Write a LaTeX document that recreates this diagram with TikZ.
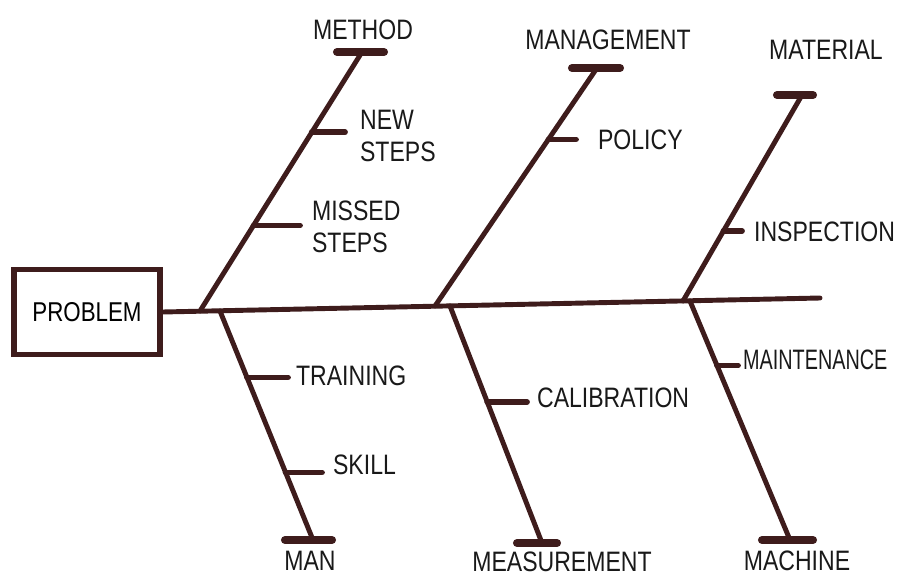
\documentclass[tikz,border=0pt]{standalone}
\usepackage{fontspec}
\setmainfont{Liberation Sans}
\newfontfamily\handfont[FakeStretch=0.82]{Liberation Sans}
\definecolor{ink}{RGB}{62,28,28}
\begin{document}
\begin{tikzpicture}[x=0.02cm, y=-0.02cm,
    bone/.style={draw=ink, line width=2.8pt, line cap=round},
    twig/.style={draw=ink, line width=3.3pt, line cap=round},
    capline/.style={draw=ink, line width=4.6pt, line cap=round},
    lbl/.style={text=black!90, inner sep=1pt, font=\handfont\fontsize{16}{18}\selectfont},
    probbox/.style={draw=ink, line width=3pt, minimum width=2.92cm, minimum height=1.7cm,
        font=\handfont\fontsize{15.5}{17}\selectfont}]
    \useasboundingbox (0,0) rectangle (900,578);

    % Head and spine
    \node[probbox] (prob) at (87,312) {PROBLEM};
    \coordinate (head) at (820,298);
    \draw[bone] (prob.east) -- (head);

    % Upper bones
    \coordinate (meth-root) at (200,311);
    \coordinate (meth-top) at (362,52);
    \coordinate (mgmt-root) at (435,306);
    \coordinate (mgmt-top) at (597,68);
    \coordinate (matl-root) at (683,301);
    \coordinate (matl-top) at (802,95);

    \draw[bone] (meth-root) -- (meth-top)
        coordinate[pos=0.69] (newst) coordinate[pos=0.33] (missst);
    \draw[bone] (mgmt-root) -- (mgmt-top)
        coordinate[pos=0.70] (policy);
    \draw[bone] (matl-root) -- (matl-top)
        coordinate[pos=0.34] (inspect);

    \draw[capline] (meth-top) ++(-25,0) -- ++(47,0);
    \draw[capline] (mgmt-top) ++(-25,0) -- ++(48,0);
    \draw[capline] (matl-top) ++(-25,0) -- ++(36,0);

    % Lower bones
    \coordinate (man-root) at (220,311);
    \coordinate (man-end) at (313,540);
    \coordinate (meas-root) at (450,306);
    \coordinate (meas-end) at (542,543);
    \coordinate (mach-root) at (690,301);
    \coordinate (mach-end) at (790,540);

    \draw[bone] (man-root) -- (man-end)
        coordinate[pos=0.29] (train) coordinate[pos=0.705] (skill);
    \draw[bone] (meas-root) -- (meas-end)
        coordinate[pos=0.405] (calib);
    \draw[bone] (mach-root) -- (mach-end)
        coordinate[pos=0.27] (maint);

    \draw[capline] (man-end) ++(-28,0) -- ++(47,0);
    \draw[capline] (meas-end) ++(-25,0) -- ++(40,0);
    \draw[capline] (mach-end) ++(-28,0) -- ++(51,0);

    % Category labels
    \node[lbl] (methlbl) at (363,30) {METHOD};
    \node[lbl] (mgmtlbl) at (608,40) {MANAGEMENT};
    \node[lbl] (matllbl) at (826,50) {MATERIAL};
    \node[lbl] (manlbl) at (310,561) {MAN};
    \node[lbl] (measlbl) at (562,562) {MEASUREMENT};
    \node[lbl] (machlbl) at (797,561) {MACHINE};

    % Causes
    \node[lbl, anchor=west, align=left] (newlbl) at (358,136) {NEW\\STEPS};
    \node[lbl, anchor=west, align=left] (misslbl) at (310,227) {MISSED\\STEPS};
    \node[lbl, anchor=west] (pollbl) at (596,140) {POLICY};
    \node[lbl, anchor=west] (insplbl) at (752,232) {INSPECTION};
    \node[lbl, anchor=west] (trainlbl) at (294,376) {TRAINING};
    \node[lbl, anchor=west] (skilllbl) at (331,465) {SKILL};
    \node[lbl, anchor=west] (caliblbl) at (535,398) {CALIBRATION};
    \node[lbl, anchor=west] (maintlbl) at (741,360) {\scalebox{0.86}[1]{MAINTENANCE}};

    \draw[twig] (newst) -- ([xshift=-0.26cm]newst -| newlbl.west);
    \draw[twig] (missst) -- ([xshift=-0.2cm]missst -| misslbl.west);
    \draw[twig] (policy) -- ([xshift=-0.4cm]policy -| pollbl.west);
    \draw[twig] (inspect) -- ([xshift=-0.2cm]inspect -| insplbl.west);
    \draw[twig] (train) -- ([xshift=-0.12cm]train -| trainlbl.west);
    \draw[twig] (skill) -- ([xshift=-0.18cm]skill -| skilllbl.west);
    \draw[twig] (calib) -- ([xshift=-0.16cm]calib -| caliblbl.west);
    \draw[twig] (maint) -- ([xshift=-0.06cm]maint -| maintlbl.west);
\end{tikzpicture}
\end{document}
